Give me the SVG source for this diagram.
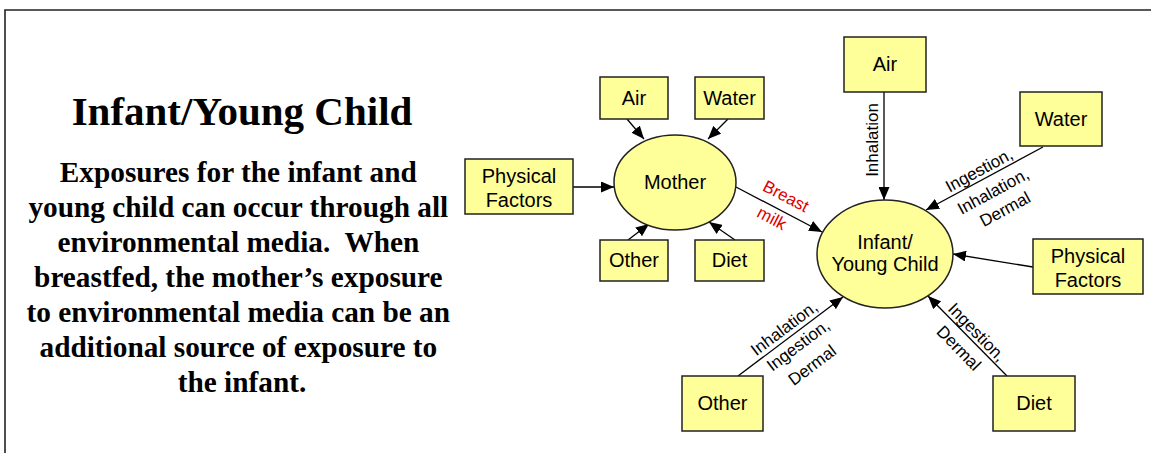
<svg xmlns="http://www.w3.org/2000/svg" width="1151" height="453" viewBox="0 0 1151 453">
<defs>
<style>
.box{fill:#ffff99;stroke:#222;stroke-width:1.5}
.ell{fill:#ffff99;stroke:#222;stroke-width:1.5}
.nt{font-family:"Liberation Sans",Arial,sans-serif;font-size:20px;fill:#000;text-anchor:middle}
.et{font-family:"Liberation Sans",Arial,sans-serif;font-size:17px;fill:#000;text-anchor:middle}
.red{fill:#e00000}
.conn line{stroke:#000;stroke-width:1.3;marker-end:url(#arr)}
.serif{font-family:"Liberation Serif","Times New Roman",serif;font-weight:bold;fill:#000;text-anchor:middle}
</style>
<marker id="arr" markerUnits="userSpaceOnUse" markerWidth="13" markerHeight="11" refX="13" refY="5.5" orient="auto">
<path d="M0,0 L13,5.5 L0,11 z" fill="#000"/>
</marker>
</defs>
<rect width="1151" height="453" fill="#fff"/>
<path d="M5,453 L5,10 L1151,10" fill="none" stroke="#222" stroke-width="1.6"/>

<g id="title">
<text class="serif" x="242" y="125" font-size="41">Infant/Young Child</text>
<text class="serif" font-size="29.3">
<tspan x="242" y="182">Exposures for the infant and</tspan>
<tspan x="242" y="217">young child can occur through all</tspan>
<tspan x="242" y="252">environmental media.&#160; When</tspan>
<tspan x="242" y="287">breastfed, the mother’s exposure</tspan>
<tspan x="242" y="322">to environmental media can be an</tspan>
<tspan x="242" y="357">additional source of exposure to</tspan>
<tspan x="242" y="392">the infant.</tspan>
</text>
</g>

<g id="connectors" class="conn">
<line x1="627" y1="119" x2="644" y2="139"/>
<line x1="728" y1="119" x2="708" y2="139"/>
<line x1="573" y1="187" x2="614" y2="187"/>
<line x1="628" y1="240" x2="649" y2="224"/>
<line x1="735" y1="240" x2="709" y2="222"/>
<line x1="736" y1="187" x2="822" y2="232"/>
<line x1="884" y1="92" x2="884" y2="200"/>
<line x1="1043" y1="147" x2="926" y2="210"/>
<line x1="1033" y1="267" x2="953" y2="254"/>
<line x1="738" y1="376" x2="843" y2="297"/>
<line x1="1007" y1="376" x2="928" y2="296"/>
</g>

<g id="edge-labels">
<g class="et">
<text transform="translate(872,140) rotate(-90)" y="6">Inhalation</text>
<text transform="translate(979,170) rotate(-28.5)" y="6">Ingestion,</text>
<text transform="translate(993,191) rotate(-28.5)" y="6">Inhalation,</text>
<text transform="translate(1005,209) rotate(-28.5)" y="6">Dermal</text>
<text transform="translate(784,328) rotate(-37)" y="6">Inhalation,</text>
<text transform="translate(798,345) rotate(-37)" y="6">Ingestion,</text>
<text transform="translate(812,365) rotate(-37)" y="6">Dermal</text>
<text transform="translate(977,332) rotate(45.7)" y="6">Ingestion,</text>
<text transform="translate(959,348) rotate(45.7)" y="6">Dermal</text>
<text class="red" transform="translate(786,196) rotate(27.6)" y="6">Breast</text>
<text class="red" transform="translate(772,218) rotate(27.6)" y="6">milk</text>
</g>
</g>

<g id="mother">
<ellipse class="ell" cx="675" cy="182.5" rx="61" ry="47.5"/>
<text class="nt" x="675" y="189">Mother</text>
</g>
<g id="m-air"><rect class="box" x="600" y="77" width="68" height="42"/><text class="nt" x="634" y="105">Air</text></g>
<g id="m-water"><rect class="box" x="695" y="77" width="69" height="42"/><text class="nt" x="729.5" y="105">Water</text></g>
<g id="m-physical"><rect class="box" x="465" y="159" width="108" height="55"/><text class="nt" x="519" y="183">Physical</text><text class="nt" x="519" y="207">Factors</text></g>
<g id="m-other"><rect class="box" x="600" y="240" width="68" height="41"/><text class="nt" x="634" y="267">Other</text></g>
<g id="m-diet"><rect class="box" x="695" y="240" width="69" height="41"/><text class="nt" x="729.5" y="267">Diet</text></g>

<g id="infant">
<ellipse class="ell" cx="885" cy="254" rx="68" ry="54"/>
<text class="nt" x="885" y="249">Infant/</text>
<text class="nt" x="885" y="271">Young Child</text>
</g>
<g id="i-air"><rect class="box" x="844" y="37" width="82" height="55"/><text class="nt" x="885" y="71">Air</text></g>
<g id="i-water"><rect class="box" x="1020" y="92" width="82" height="54"/><text class="nt" x="1061" y="126">Water</text></g>
<g id="i-physical"><rect class="box" x="1033" y="239" width="110" height="55"/><text class="nt" x="1088" y="263">Physical</text><text class="nt" x="1088" y="287">Factors</text></g>
<g id="i-other"><rect class="box" x="682" y="376" width="81" height="55"/><text class="nt" x="722.5" y="410">Other</text></g>
<g id="i-diet"><rect class="box" x="993" y="376" width="82" height="55"/><text class="nt" x="1034" y="410">Diet</text></g>
</svg>
